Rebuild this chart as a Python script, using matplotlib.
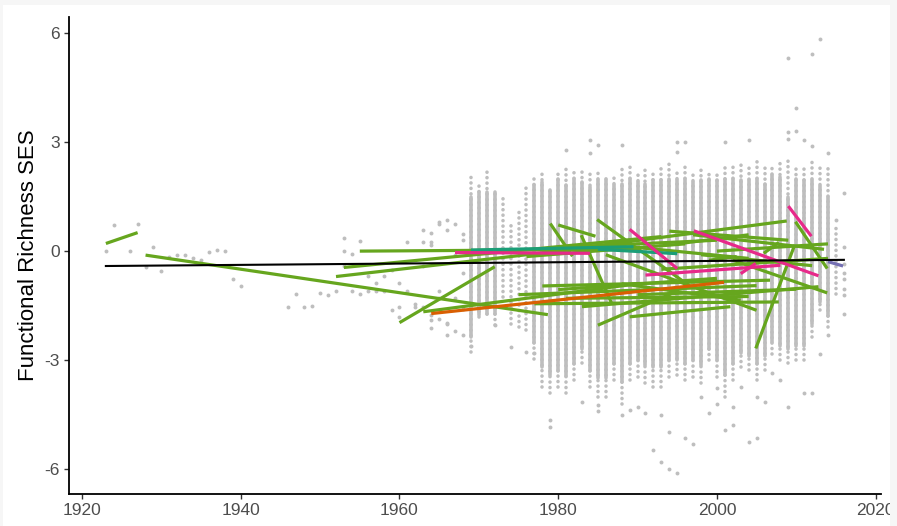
import numpy as np
import matplotlib
matplotlib.use("Agg")
import matplotlib.pyplot as plt
from matplotlib.patches import Rectangle

# ---------------- data ----------------
# dense yearly columns (1969-2015): outer (dotted) and inner (dense) ranges
col_years = list(range(1969, 2016))
tail_lo = [-2.77, -1.81, -1.72, -2.04, -1.26, -2.00, -2.08, -2.18, -2.96, -3.74,
           -3.92, -3.74, -3.92, -3.55, -3.09, -3.74, -4.01, -4.01, -3.55, -4.20,
           -3.55, -3.46, -3.64, -3.74, -3.74, -3.46, -3.42, -3.55, -3.46, -3.64,
           -3.00, -3.46, -4.01, -3.55, -3.18, -3.28, -3.55, -3.28, -2.82, -3.00,
           -3.09, -3.00, -3.00, -2.36, -1.63, -2.08, -1.17]
core_lo = [-2.36, -1.76, -1.72, -1.72, np.nan, np.nan, np.nan, np.nan, -2.54, -3.20,
           -3.40, -3.30, -3.45, -3.10, -2.70, -3.30, -3.50, -3.50, -3.10, -3.60,
           -3.10, -3.00, -3.15, -3.20, -3.20, -3.00, -3.00, -3.10, -3.00, -3.15,
           -2.70, -3.00, -3.40, -3.10, -2.80, -2.90, -3.10, -2.90, -2.50, -2.60,
           -2.70, -2.60, -2.60, -2.00, -1.40, -1.80, np.nan]
core_hi = [1.50, 1.63, 1.63, 1.63, np.nan, np.nan, np.nan, np.nan, 1.82, 1.91,
           1.68, 2.00, 1.82, 2.00, 1.90, 1.77, 1.96, 1.96, 1.82, 1.86,
           2.00, 1.91, 1.86, 1.95, 1.95, 2.00, 1.96, 2.00, 1.91, 1.96,
           2.00, 1.96, 2.00, 2.00, 1.96, 1.96, 2.00, 1.86, 2.10, 2.05,
           1.50, 2.00, 1.95, 1.95, 1.80, 1.50, np.nan]
tail_hi = [2.14, 1.89, 2.28, 1.63, 1.50, 0.81, 1.13, 1.77, 1.99, 2.16,
           1.68, 2.16, 2.30, 2.27, 2.23, 2.20, 2.20, 2.10, 2.05, 2.30,
           2.41, 2.23, 2.32, 2.14, 2.30, 2.42, 2.30, 2.42, 2.10, 2.23,
           2.15, 2.23, 2.40, 2.46, 2.46, 2.40, 2.60, 2.30, 2.37, 2.46,
           2.50, 2.40, 2.30, 2.46, 2.30, 2.30, 0.76]

# scattered individual observations
pt_year = [1923, 1924, 1926, 1927, 1928, 1929, 1930, 1931, 1932, 1933, 1934, 1935,
           1936, 1937, 1938, 1939, 1940, 1946, 1947, 1948, 1949, 1950, 1951, 1952,
           1953, 1953, 1953, 1954, 1954, 1955, 1955, 1956, 1956, 1957, 1957, 1958,
           1958, 1959, 1959, 1960, 1960, 1960, 1961, 1961, 1962, 1962, 1963, 1963,
           1963, 1963, 1964, 1964, 1964, 1964, 1964, 1964, 1965, 1965, 1965, 1965,
           1965, 1966, 1966, 1966, 1966, 1966, 1967, 1967, 1967, 1967, 1968, 1968,
           1968, 1968, 1968,
           1969, 1972, 1974, 1976, 1977, 1979, 1979, 1981, 1983, 1984, 1984, 1985,
           1985, 1985, 1988, 1988, 1989, 1990, 1991, 1992, 1993, 1993, 1994, 1994,
           1995, 1995, 1995, 1996, 1996, 1997, 1998, 1999, 2000, 2001, 2001, 2002,
           2002, 2003, 2004, 2004, 2005, 2006, 2007, 2008, 2009, 2009, 2009, 2010,
           2010, 2011, 2011, 2012, 2012, 2013, 2013, 2012, 2009, 2005, 2000,
           2016, 2016, 2016, 2016, 2016, 2016, 2016, 2016, 2015, 2014, 2014]
pt_val = [0.01, 0.71, 0.01, 0.74, -0.43, 0.10, -0.54, -0.16, -0.12, -0.11, -0.18, -0.24,
          -0.03, 0.02, 0.01, -0.76, -0.95, -1.54, -1.18, -1.55, -1.52, -1.14, -1.21, -1.11,
          0.36, 0.00, -0.42, -0.07, -1.11, 0.28, -1.18, -0.68, -1.11, -0.88, -1.11, -0.68,
          -1.11, -0.51, -1.63, -0.88, -1.55, -1.81, 0.24, -1.10, -1.45, -1.54, 0.57, 0.24,
          -1.55, -0.40, 0.51, 0.24, -1.77, -1.89, -2.12, 0.17, 0.81, 0.76, -1.10, -1.86,
          -1.28, 0.86, 0.58, -2.00, -2.31, -1.98, 0.74, -0.10, -2.20, -1.30, 0.46, 0.32,
          -2.30, -0.60, -1.60,
          -2.60, -2.04, -2.64, -2.77, -2.80, -4.66, -4.84, 2.78, -4.15, 3.06, 2.70, 2.92,
          -4.24, -4.40, 2.92, -4.50, -4.38, -4.29, -4.47, -5.48, -4.52, -5.80, -4.98, -5.99,
          3.01, 2.74, -6.10, -5.16, 3.01, -5.30, -4.01, -4.47, -3.78, 3.01, -4.93, -4.29,
          -4.79, -3.74, -5.25, 3.06, -4.01, -4.15, -3.37, -3.55, 5.33, 3.10, 3.28, 3.94,
          3.31, -3.92, 3.05, 5.44, 2.89, 5.84, -2.82, -3.92, -4.29, -5.16, -4.20,
          1.59, 0.10, -0.35, -0.60, -0.78, -1.05, -1.20, -1.72, 0.85, -2.30, 2.70]

# per-study fitted trends: (start year, start value, end year, end value)
green_lines = [
    (1923, 0.21, 1927, 0.51), (1928, -0.11, 1978.7, -1.75), (1952, -0.70, 1988, 0.20),
    (1953, -0.45, 1993, 0.40), (1955, 0.00, 1990, 0.05), (1960, -1.97, 1972, -0.43),
    (1963, -1.67, 1990, -0.90), (1979, 0.76, 1981.8, -0.14), (1980, 0.72, 1984.7, 0.41),
    (1982.9, 0.44, 1986.7, -1.42), (1984.9, 0.87, 1996.5, -0.95), (1978, -0.05, 2008.8, 0.83),
    (1980, 0.10, 2000, 0.30), (1994, 0.55, 2009, 0.30), (1997, 0.45, 2013.5, 0.05),
    (2000, 0.00, 2014, 0.20), (2009.9, 0.81, 2013.9, -0.48), (2004.9, -2.68, 2009.8, 0.17),
    (1990, 0.10, 2004, -0.20), (1999, -0.25, 2002.5, -0.15), (2005.9, -0.06, 2007.8, 0.24),
    (1986, -0.10, 2005, -1.63), (2002, -0.25, 2013.9, -1.15), (1978, -0.96, 2006.7, -0.80),
    (1983, -1.53, 2012.8, -0.98), (1985, -2.04, 1995, -1.10), (1989, -1.81, 2001.7, -1.53),
    (1977, -1.45, 2007.8, -1.40), (1980, -1.06, 2000, -0.75), (1975, -1.20, 2005, -0.95),
    (1993, -0.50, 2014, -0.20), (1998, -0.10, 2012, -0.40), (1981, -1.30, 2004, -1.25),
    (1976, -0.15, 1996, 0.20), (1990, -1.20, 2010, -1.05), (1988, -0.90, 2003, -1.35),
    (1995, 0.20, 2004, 0.45),
]
pink_lines = [(1967, -0.04, 1984, -0.06), (1989, 0.60, 1995, -0.48), (1991, -0.66, 2008, -0.39),
              (1997.1, 0.56, 2012.8, -0.68), (2003, -0.62, 2004.9, -0.34), (2009, 1.24, 2011.9, 0.41)]
orange_lines = [(1964, -1.72, 2000.9, -0.86)]
teal_lines = [(1969, 0.03, 1989.5, 0.12), (1985, 0.05, 1995, -0.07)]
purple_lines = [(2014, -0.29, 2015.9, -0.41)]
overall_line = (1923, -0.41, 2016, -0.24)

x_ticks = [1920, 1940, 1960, 1980, 2000, 2020]
y_ticks = [-6, -3, 0, 3, 6]
y_label = "Functional Richness SES"

# ---------------- plot ----------------
plt.rcParams['font.family'] = ['Liberation Sans', 'DejaVu Sans']
fig = plt.figure(figsize=(8.97, 5.26), dpi=100)
ax = fig.add_axes([0.0769, 0.0608, 0.905, 0.907])

grey = '#BEBEBE'
dot_lw = 2.6
for yr, tl, cl, ch, th in zip(col_years, tail_lo, core_lo, core_hi, tail_hi):
    ax.plot([yr, yr], [tl, th], color=grey, lw=dot_lw, linestyle=(0, (0.01, 1.5)),
            solid_capstyle='round', dash_capstyle='round', zorder=1)
    if not np.isnan(cl):
        ax.plot([yr, yr], [cl, ch], color=grey, lw=dot_lw, solid_capstyle='round', zorder=1)
ax.scatter(pt_year, pt_val, s=8, color=grey, linewidths=0, zorder=1)

def draw(lines, color, z):
    for x0, y0, x1, y1 in lines:
        ax.plot([x0, x1], [y0, y1], color=color, lw=2.3, solid_capstyle='butt', zorder=z)

draw(green_lines, '#66A61E', 2)
draw(orange_lines, '#D95F02', 3)
draw(teal_lines, '#1B9E77', 3)
draw(pink_lines, '#E7298A', 3)
draw(purple_lines, '#7570B3', 3)
ax.plot([overall_line[0], overall_line[2]], [overall_line[1], overall_line[3]],
        color='black', lw=1.5, zorder=4)

ax.set_xlim(1918.35, 2020.65)
ax.set_ylim(-6.69, 6.45)
ax.set_xticks(x_ticks)
ax.set_yticks(y_ticks)
ax.set_yticklabels([str(v) for v in y_ticks])
ax.tick_params(axis='both', labelsize=12.5, labelcolor='#4D4D4D', color='#333333',
               length=3.6, width=1.0, pad=3)
for s in ['top', 'right']:
    ax.spines[s].set_visible(False)
for s in ['left', 'bottom']:
    ax.spines[s].set_linewidth(1.3)
    ax.spines[s].set_color('black')
ax.set_ylabel(y_label, fontsize=16, color='black', labelpad=4)
ax.set_facecolor('white')

# light page border visible around the reference screenshot
W, H = 897, 526
border = '#F6F6F6'
for (x0, y0, w, h) in [(0, H - 5, W, 5), (0, 0, 3, H), (890, 0, 7, H)]:
    fig.patches.append(Rectangle((x0 / W, y0 / H), w / W, h / H, transform=fig.transFigure,
                                 facecolor=border, edgecolor='none', zorder=10))
fig.savefig('out.png', dpi=100, facecolor='white')
